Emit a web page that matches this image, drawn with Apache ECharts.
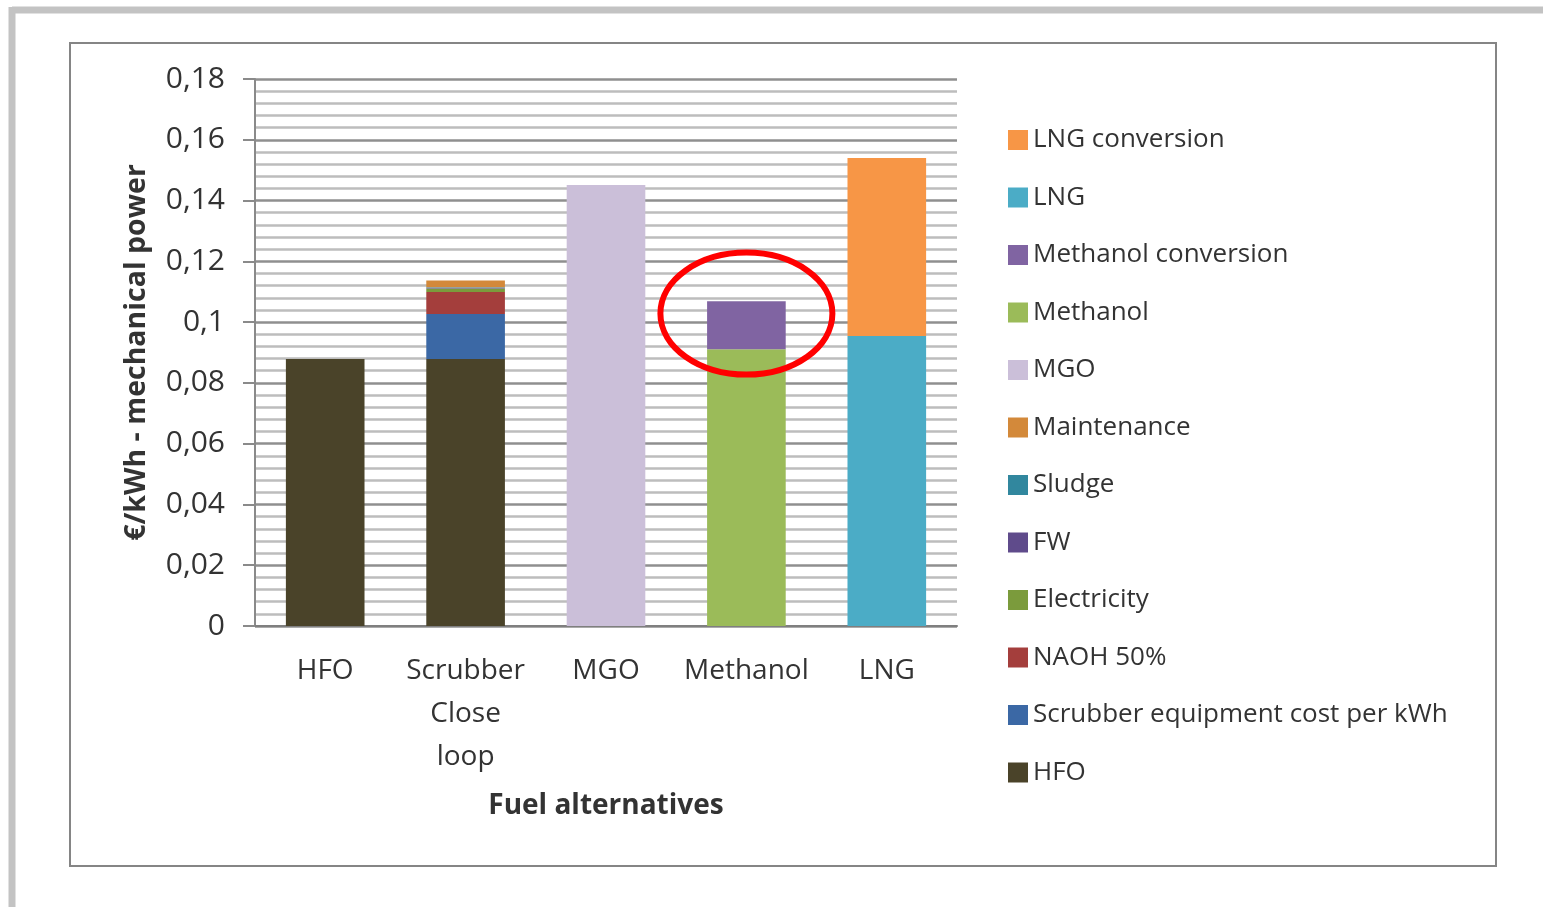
<!DOCTYPE html>
<html>
<head>
<meta charset="utf-8">
<script src="https://cdn.jsdelivr.net/npm/echarts@6/dist/echarts.min.js"></script>
<style>
  html, body { margin: 0; padding: 0; background: #fff; }
  #chart { width: 1543px; height: 907px; }
</style>
</head>
<body>
<div id="chart"></div>
<script>
// categories on the x axis
const fuels = ['HFO', 'Scrubber\nClose\nloop', 'MGO', 'Methanol', 'LNG'];

// stacked cost components (€/kWh), bottom to top
const hfo          = [0.0879, 0.0879, 0, 0, 0];
const scrubberEq   = [0, 0.0148, 0, 0, 0];
const naoh         = [0, 0.0072, 0, 0, 0];
const electricity  = [0, 0.0012, 0, 0, 0];
const fw           = [0, 0.0002, 0, 0, 0];
const sludge       = [0, 0.0002, 0, 0, 0];
const maintenance  = [0, 0.0022, 0, 0, 0];
const mgo          = [0, 0, 0.1451, 0, 0];
const methanol     = [0, 0, 0, 0.0911, 0];
const methanolConv = [0, 0, 0, 0.0158, 0];
const lng          = [0, 0, 0, 0, 0.0954];
const lngConv      = [0, 0, 0, 0, 0.0586];

const seriesDefs = [
    { name: 'HFO', data: hfo, color: '#4a4329' },
    { name: 'Scrubber equipment cost per kWh', data: scrubberEq, color: '#3b68a5' },
    { name: 'NAOH 50%', data: naoh, color: '#a43e3c' },
    { name: 'Electricity', data: electricity, color: '#7b9b3c' },
    { name: 'FW', data: fw, color: '#5f4b8b' },
    { name: 'Sludge', data: sludge, color: '#31879e' },
    { name: 'Maintenance', data: maintenance, color: '#d3893a' },
    { name: 'MGO', data: mgo, color: '#cbbfd9' },
    { name: 'Methanol', data: methanol, color: '#9bbb59' },
    { name: 'Methanol conversion', data: methanolConv, color: '#8064a2' },
    { name: 'LNG', data: lng, color: '#4bacc6' },
    { name: 'LNG conversion', data: lngConv, color: '#f79646' }
];

const textColor = '#333333';
const font = 'Open Sans';

const chart = echarts.init(document.getElementById('chart'));

const option = {
    animation: false,
    backgroundColor: '#ffffff',
    grid: { left: 255, top: 79, right: 586, bottom: 281, containLabel: false },
    legend: {
        orient: 'vertical',
        left: 1003,
        top: 122,
        itemWidth: 20,
        itemHeight: 20,
        itemGap: 31.5,
        icon: 'rect',
        data: seriesDefs.map(function (s) { return s.name; }).reverse(),
        textStyle: { fontFamily: font, fontSize: 26, color: textColor }
    },
    xAxis: {
        type: 'category',
        data: fuels,
        name: 'Fuel alternatives',
        nameLocation: 'middle',
        nameGap: 166,
        nameTextStyle: { fontFamily: font, fontSize: 28, fontWeight: 'bold', color: textColor },
        axisLine: { lineStyle: { color: '#7f7f7f', width: 2 } },
        axisTick: { show: false },
        axisLabel: { interval: 0, fontFamily: font, fontSize: 28, color: textColor, margin: 24, lineHeight: 43 }
    },
    yAxis: {
        type: 'value',
        min: 0,
        max: 0.18,
        interval: 0.02,
        name: '€/kWh - mechanical power',
        nameLocation: 'middle',
        nameGap: 104,
        nameTextStyle: { fontFamily: font, fontSize: 28.5, fontWeight: 'bold', color: textColor },
        axisLine: { show: true, lineStyle: { color: '#8a8a8a', width: 2 } },
        axisTick: { show: true, length: 12, lineStyle: { color: '#8a8a8a', width: 2 } },
        axisLabel: {
            fontFamily: font, fontSize: 30, color: textColor, margin: 30,
            formatter: function (v) { return String(Math.round(v * 100) / 100).replace('.', ','); }
        },
        splitLine: { lineStyle: { color: '#8f8f8f', width: 2.5 } },
        minorTick: { show: false, splitNumber: 5 },
        minorSplitLine: { show: true, lineStyle: { color: '#bdbdbd', width: 2.5 } }
    },
    series: seriesDefs.map(function (s) {
        return {
            name: s.name,
            type: 'bar',
            stack: 'cost',
            barWidth: '56%',
            data: s.data,
            itemStyle: { color: s.color }
        };
    })
};

chart.setOption(option);

// frame lines and annotation ellipse around the Methanol bar
const c = chart.convertToPixel({ xAxisIndex: 0, yAxisIndex: 0 }, ['Methanol', 0.1028]);
chart.setOption({
    graphic: [
        { type: 'line', shape: { x1: 12, y1: 10, x2: 1543, y2: 10 }, style: { stroke: '#c3c3c3', lineWidth: 7 }, z: 0 },
        { type: 'line', shape: { x1: 12, y1: 7, x2: 12, y2: 907 }, style: { stroke: '#c3c3c3', lineWidth: 7 }, z: 0 },
        { type: 'rect', shape: { x: 70, y: 43, width: 1426, height: 823 }, style: { fill: 'none', stroke: '#858585', lineWidth: 2 }, z: 0 },
        { type: 'ellipse', shape: { cx: c[0], cy: c[1], rx: 86, ry: 61 }, style: { fill: 'none', stroke: '#ff0000', lineWidth: 6 }, z: 100 }
    ]
});

window.addEventListener('resize', function () {
    chart.resize();
});
</script>
</body>
</html>
